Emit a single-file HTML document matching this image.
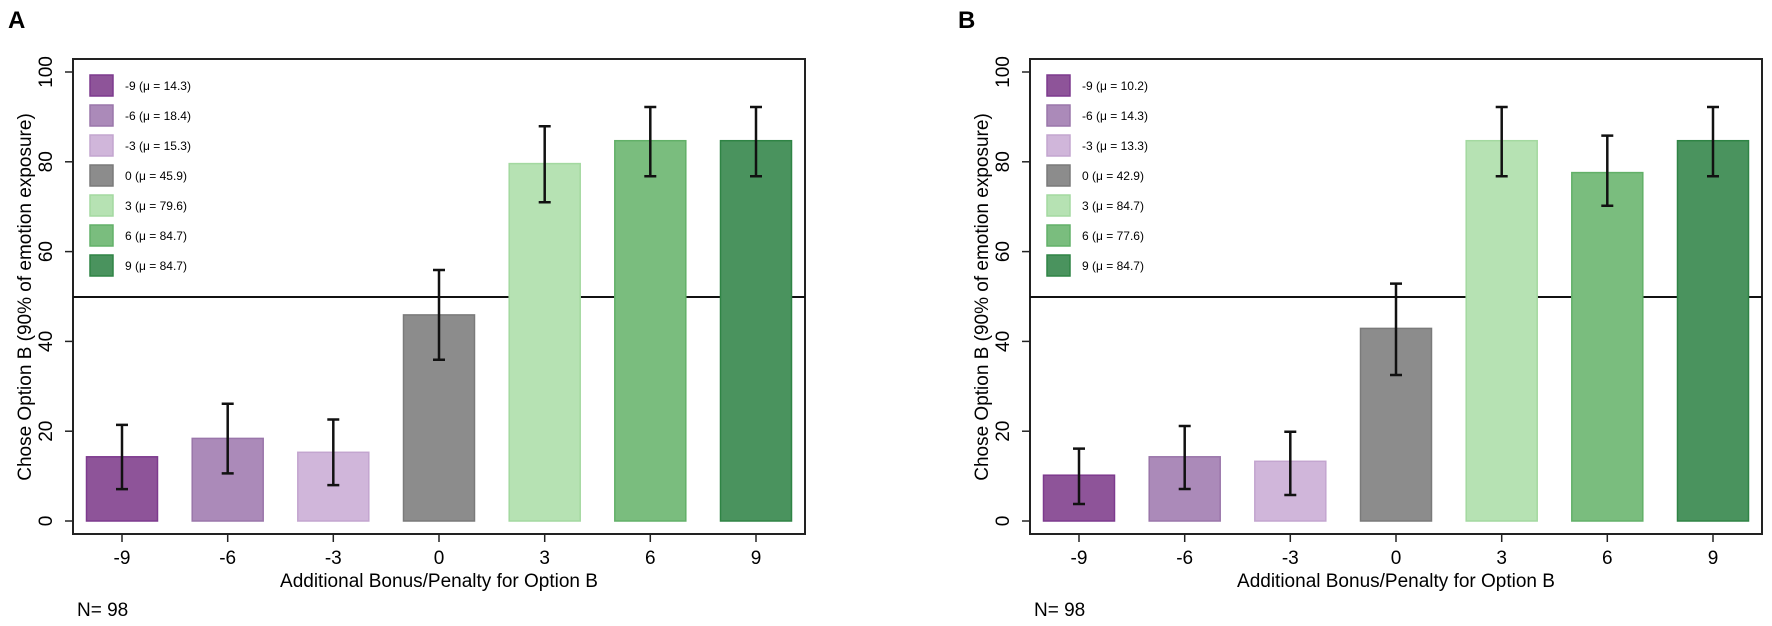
<!DOCTYPE html>
<html><head><meta charset="utf-8"><style>
html,body{margin:0;padding:0;background:#fff}
svg{display:block}
text{font-family:"Liberation Sans",Arial,sans-serif;fill:#000}
</style></head><body>
<svg width="1772" height="626" viewBox="0 0 1772 626" xmlns="http://www.w3.org/2000/svg">
<defs>
<g id="axes">
  <rect x="73" y="59" width="732" height="475" fill="none" stroke="#222" stroke-width="2"/>
  <line x1="73" y1="297" x2="805" y2="297" stroke="#111" stroke-width="2"/>
  <g stroke="#222" stroke-width="1.5">
    <line x1="65" y1="521" x2="73" y2="521"/><line x1="65" y1="431.2" x2="73" y2="431.2"/>
    <line x1="65" y1="341.4" x2="73" y2="341.4"/><line x1="65" y1="251.6" x2="73" y2="251.6"/>
    <line x1="65" y1="161.8" x2="73" y2="161.8"/><line x1="65" y1="72" x2="73" y2="72"/>
    <line x1="122" y1="534" x2="122" y2="542"/><line x1="227.7" y1="534" x2="227.7" y2="542"/>
    <line x1="333.3" y1="534" x2="333.3" y2="542"/><line x1="439" y1="534" x2="439" y2="542"/>
    <line x1="544.7" y1="534" x2="544.7" y2="542"/><line x1="650.3" y1="534" x2="650.3" y2="542"/>
    <line x1="756" y1="534" x2="756" y2="542"/>
  </g>
  <g font-size="19" text-anchor="middle">
    <text transform="translate(52,521) rotate(-90)">0</text>
    <text transform="translate(52,431.2) rotate(-90)">20</text>
    <text transform="translate(52,341.4) rotate(-90)">40</text>
    <text transform="translate(52,251.6) rotate(-90)">60</text>
    <text transform="translate(52,161.8) rotate(-90)">80</text>
    <text transform="translate(52,72) rotate(-90)">100</text>
    <text x="122" y="564">-9</text><text x="227.7" y="564">-6</text><text x="333.3" y="564">-3</text>
    <text x="439" y="564">0</text><text x="544.7" y="564">3</text><text x="650.3" y="564">6</text><text x="756" y="564">9</text>
    <text x="439" y="587">Additional Bonus/Penalty for Option B</text>
    <text transform="translate(31,297) rotate(-90)">Chose Option B (90% of emotion exposure)</text>
  </g>
  <text x="77" y="616" font-size="19">N= 98</text>
  <g stroke-width="1.5">
    <rect x="90" y="75" width="23" height="21" fill="#8e5499" stroke="#7d3a8e"/>
    <rect x="90" y="105" width="23" height="21" fill="#ab8ab9" stroke="#9a76aa"/>
    <rect x="90" y="135" width="23" height="21" fill="#d0b6da" stroke="#c3a5cf"/>
    <rect x="90" y="165" width="23" height="21" fill="#8c8c8c" stroke="#7a7a7a"/>
    <rect x="90" y="195" width="23" height="21" fill="#b6e2b3" stroke="#a3d9a0"/>
    <rect x="90" y="225" width="23" height="21" fill="#7abd7e" stroke="#62b068"/>
    <rect x="90" y="255" width="23" height="21" fill="#4a935e" stroke="#2f8445"/>
  </g>
</g>
</defs>

<text x="8" y="28" font-size="24" font-weight="bold">A</text>
<use href="#axes"/>
<g font-size="12">
  <text x="125" y="90">-9 (μ = 14.3)</text><text x="125" y="120">-6 (μ = 18.4)</text>
  <text x="125" y="150">-3 (μ = 15.3)</text><text x="125" y="180">0 (μ = 45.9)</text>
  <text x="125" y="210">3 (μ = 79.6)</text><text x="125" y="240">6 (μ = 84.7)</text>
  <text x="125" y="270">9 (μ = 84.7)</text>
</g>
<g stroke-width="1.5">
  <rect x="86.5" y="456.8" width="71" height="64.2" fill="#8e5499" stroke="#7d3a8e"/>
  <rect x="192.2" y="438.4" width="71" height="82.6" fill="#ab8ab9" stroke="#9a76aa"/>
  <rect x="297.8" y="452.3" width="71" height="68.7" fill="#d0b6da" stroke="#c3a5cf"/>
  <rect x="403.5" y="314.9" width="71" height="206.1" fill="#8c8c8c" stroke="#7a7a7a"/>
  <rect x="509.2" y="163.6" width="71" height="357.4" fill="#b6e2b3" stroke="#a3d9a0"/>
  <rect x="614.8" y="140.7" width="71" height="380.3" fill="#7abd7e" stroke="#62b068"/>
  <rect x="720.5" y="140.7" width="71" height="380.3" fill="#4a935e" stroke="#2f8445"/>
</g>
<g stroke="#111" stroke-width="2.5" fill="none">
  <path d="M122 424.9V489.1M116 424.9H128M116 489.1H128"/>
  <path d="M227.7 403.8V473.4M221.7 403.8H233.7M221.7 473.4H233.7"/>
  <path d="M333.3 419.5V485.1M327.3 419.5H339.3M327.3 485.1H339.3"/>
  <path d="M439 270V359.8M433 270H445M433 359.8H445"/>
  <path d="M544.7 126.3V202.2M538.7 126.3H550.7M538.7 202.2H550.7"/>
  <path d="M650.3 107V176.2M644.3 107H656.3M644.3 176.2H656.3"/>
  <path d="M756 107V176.2M750 107H762M750 176.2H762"/>
</g>

<text x="958" y="28" font-size="24" font-weight="bold">B</text>
<g transform="translate(957,0)">
<use href="#axes"/>
<g font-size="12">
  <text x="125" y="90">-9 (μ = 10.2)</text><text x="125" y="120">-6 (μ = 14.3)</text>
  <text x="125" y="150">-3 (μ = 13.3)</text><text x="125" y="180">0 (μ = 42.9)</text>
  <text x="125" y="210">3 (μ = 84.7)</text><text x="125" y="240">6 (μ = 77.6)</text>
  <text x="125" y="270">9 (μ = 84.7)</text>
</g>
<g stroke-width="1.5">
  <rect x="86.5" y="475.2" width="71" height="45.8" fill="#8e5499" stroke="#7d3a8e"/>
  <rect x="192.2" y="456.8" width="71" height="64.2" fill="#ab8ab9" stroke="#9a76aa"/>
  <rect x="297.8" y="461.3" width="71" height="59.7" fill="#d0b6da" stroke="#c3a5cf"/>
  <rect x="403.5" y="328.4" width="71" height="192.6" fill="#8c8c8c" stroke="#7a7a7a"/>
  <rect x="509.2" y="140.7" width="71" height="380.3" fill="#b6e2b3" stroke="#a3d9a0"/>
  <rect x="614.8" y="172.6" width="71" height="348.4" fill="#7abd7e" stroke="#62b068"/>
  <rect x="720.5" y="140.7" width="71" height="380.3" fill="#4a935e" stroke="#2f8445"/>
</g>
<g stroke="#111" stroke-width="2.5" fill="none">
  <path d="M122 448.6V504M116 448.6H128M116 504H128"/>
  <path d="M227.7 426V489M221.7 426H233.7M221.7 489H233.7"/>
  <path d="M333.3 431.7V495M327.3 431.7H339.3M327.3 495H339.3"/>
  <path d="M439 283.6V375M433 283.6H445M433 375H445"/>
  <path d="M544.7 107V176.2M538.7 107H550.7M538.7 176.2H550.7"/>
  <path d="M650.3 135.6V205.7M644.3 135.6H656.3M644.3 205.7H656.3"/>
  <path d="M756 107V176.2M750 107H762M750 176.2H762"/>
</g>
</g>
</svg>
</body></html>
